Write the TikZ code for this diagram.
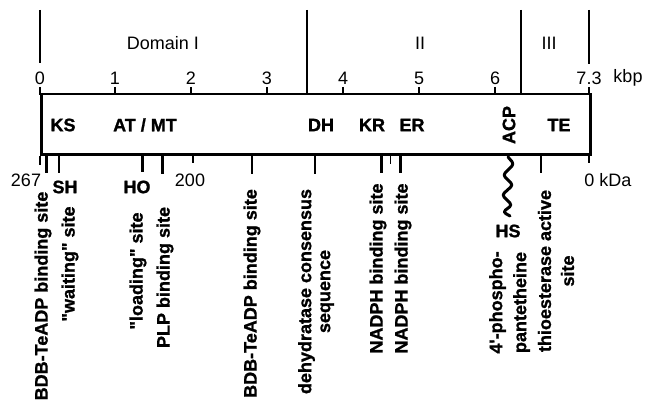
\documentclass[tikz,border=0pt]{standalone}
\usepackage{fontspec}
\setmainfont{Liberation Sans}[BoldFeatures={FakeBold=1.2}]
\begin{document}
\begin{tikzpicture}[x=1pt,y=-1pt,
  lbl/.style={font=\fontsize{18}{20}\selectfont, inner sep=0pt},
  blbl/.style={font=\fontsize{18}{20}\selectfont\bfseries, inner sep=0pt},
  vlbl/.style={blbl, rotate=90, align=center},
  frame/.style={line width=2.6pt},
  domline/.style={line width=1.5pt},
  tickup/.style={line width=1.5pt},
  tickdn/.style={line width=2.6pt},
  wave/.style={line width=3pt, line join=round, line cap=round, rounded corners=3pt}]
\useasboundingbox (0,0) rectangle (647,406);

% gene body
\node (gene) [draw, frame, minimum width=549pt, minimum height=60.5pt,
  inner sep=0pt, anchor=south west] at (40,156) {};

% domain boundaries
\coordinate (d0a) at (40,10);   \coordinate (d0b) at (40,63);
\coordinate (d1a) at (307,10);  \coordinate (d1b) at (307,95.5);
\coordinate (d2a) at (521,10);  \coordinate (d2b) at (521,95.5);
\coordinate (d3a) at (589,10);  \coordinate (d3b) at (589,64);
\draw[domline] (d0a) -- (d0b);
\draw[domline] (d1a) -- (d1b);
\draw[domline] (d2a) -- (d2b);
\draw[domline] (d3a) -- (d3b);
\node[lbl] (domI)   at (163,43) {Domain I};
\node[lbl] (domII)  at (420,43) {II};
\node[lbl] (domIII) at (549,43) {III};

% kbp scale
\foreach \i/\k/\x in {0/0/40,1/1/115,2/2/191,3/3/267,4/4/343,5/5/419,6/6/495,7/7.3/589}{
  \node[lbl] (kb\i) at (\x,78) {\k};
  \coordinate (ku\i) at (\x,87);
  \coordinate (kl\i) at (\x,95.5);
  \draw[tickup] (ku\i) -- (kl\i);
}
\node[lbl] (kbp) at (628,78) {kbp};

% domains inside the gene
\node[blbl] (ks)   at (63,125)  {KS};
\node[blbl] (atmt) at (145,125) {AT / MT};
\node[blbl] (dh)   at (321,125) {DH};
\node[blbl] (kr)   at (372,125) {KR};
\node[blbl] (er)   at (412,125) {ER};
\node[blbl, rotate=90] (acp) at (509,125) {ACP};
\node[blbl] (te)   at (559,125) {TE};

% kDa scale
\coordinate (e0a) at (40,156);  \coordinate (e0b) at (40,165);
\coordinate (e1a) at (589,156); \coordinate (e1b) at (589,163);
\draw[frame] (e0a) -- (e0b);
\draw[frame] (e1a) -- (e1b);
\node[lbl] (k267) at (26,180)  {267};
\node[lbl] (k200) at (190,180) {200};
\node[lbl] (k0)   at (608,180) {0 kDa};
\coordinate (s200a) at (193,156); \coordinate (s200b) at (193,163);
\draw[tickup] (s200a) -- (s200b);

% sites below the gene
\foreach \n/\x/\l in {a/46.5/173, b/59/173, c/142.5/172, d/162.5/174, e/252/174,
                      f/315/174, g/381.5/173, h/400.5/173, i/541/173}{
  \coordinate (st\n) at (\x,156);
  \coordinate (sb\n) at (\x,\l);
  \draw[tickdn] (st\n) -- (sb\n);
}
\coordinate (stz) at (390.5,156); \coordinate (sbz) at (390.5,164);
\draw[tickup] (stz) -- (sbz);

\node[blbl] (sh) at (65,187)  {SH};
\node[blbl] (ho) at (137,187) {HO};

% phosphopantetheine arm
\coordinate (w0) at (508,157);
\coordinate (w1) at (510,216);
\node[blbl] (hs) at (508,231) {HS};
\draw[wave] (w0) -- (514,164) -- (503,175) -- (513,185) -- (502,195)
  -- (512,205) -- (503,212) -- (w1);

% site descriptions
\node[vlbl] (bdb1) at (43,296)    {BDB-TeADP binding site};
\node[vlbl] (wait) at (70,264)    {\textquotedbl waiting\textquotedbl{} site};
\node[vlbl] (load) at (138,271)   {\textquotedbl loading\textquotedbl{} site};
\node[vlbl] (plp)  at (165,277.5) {PLP binding site};
\node[vlbl] (bdb2) at (252,293.5) {BDB-TeADP binding site};
\node[vlbl, font=\fontsize{18}{19}\selectfont\bfseries] (dhcs) at (316,291.5)
  {dehydratase consensus\\sequence};
\node[vlbl] (nad1) at (378,268.5) {NADPH binding site};
\node[vlbl] (nad2) at (403,268.5) {NADPH binding site};
\node[vlbl, font=\fontsize{18}{24}\selectfont\bfseries] (ppant) at (509.5,302.5)
  {4\textquotesingle-phospho-\\pantetheine};
\node[vlbl, font=\fontsize{18}{23}\selectfont\bfseries] (teas) at (556,271)
  {thioesterase active\\site};
\end{tikzpicture}
\end{document}
